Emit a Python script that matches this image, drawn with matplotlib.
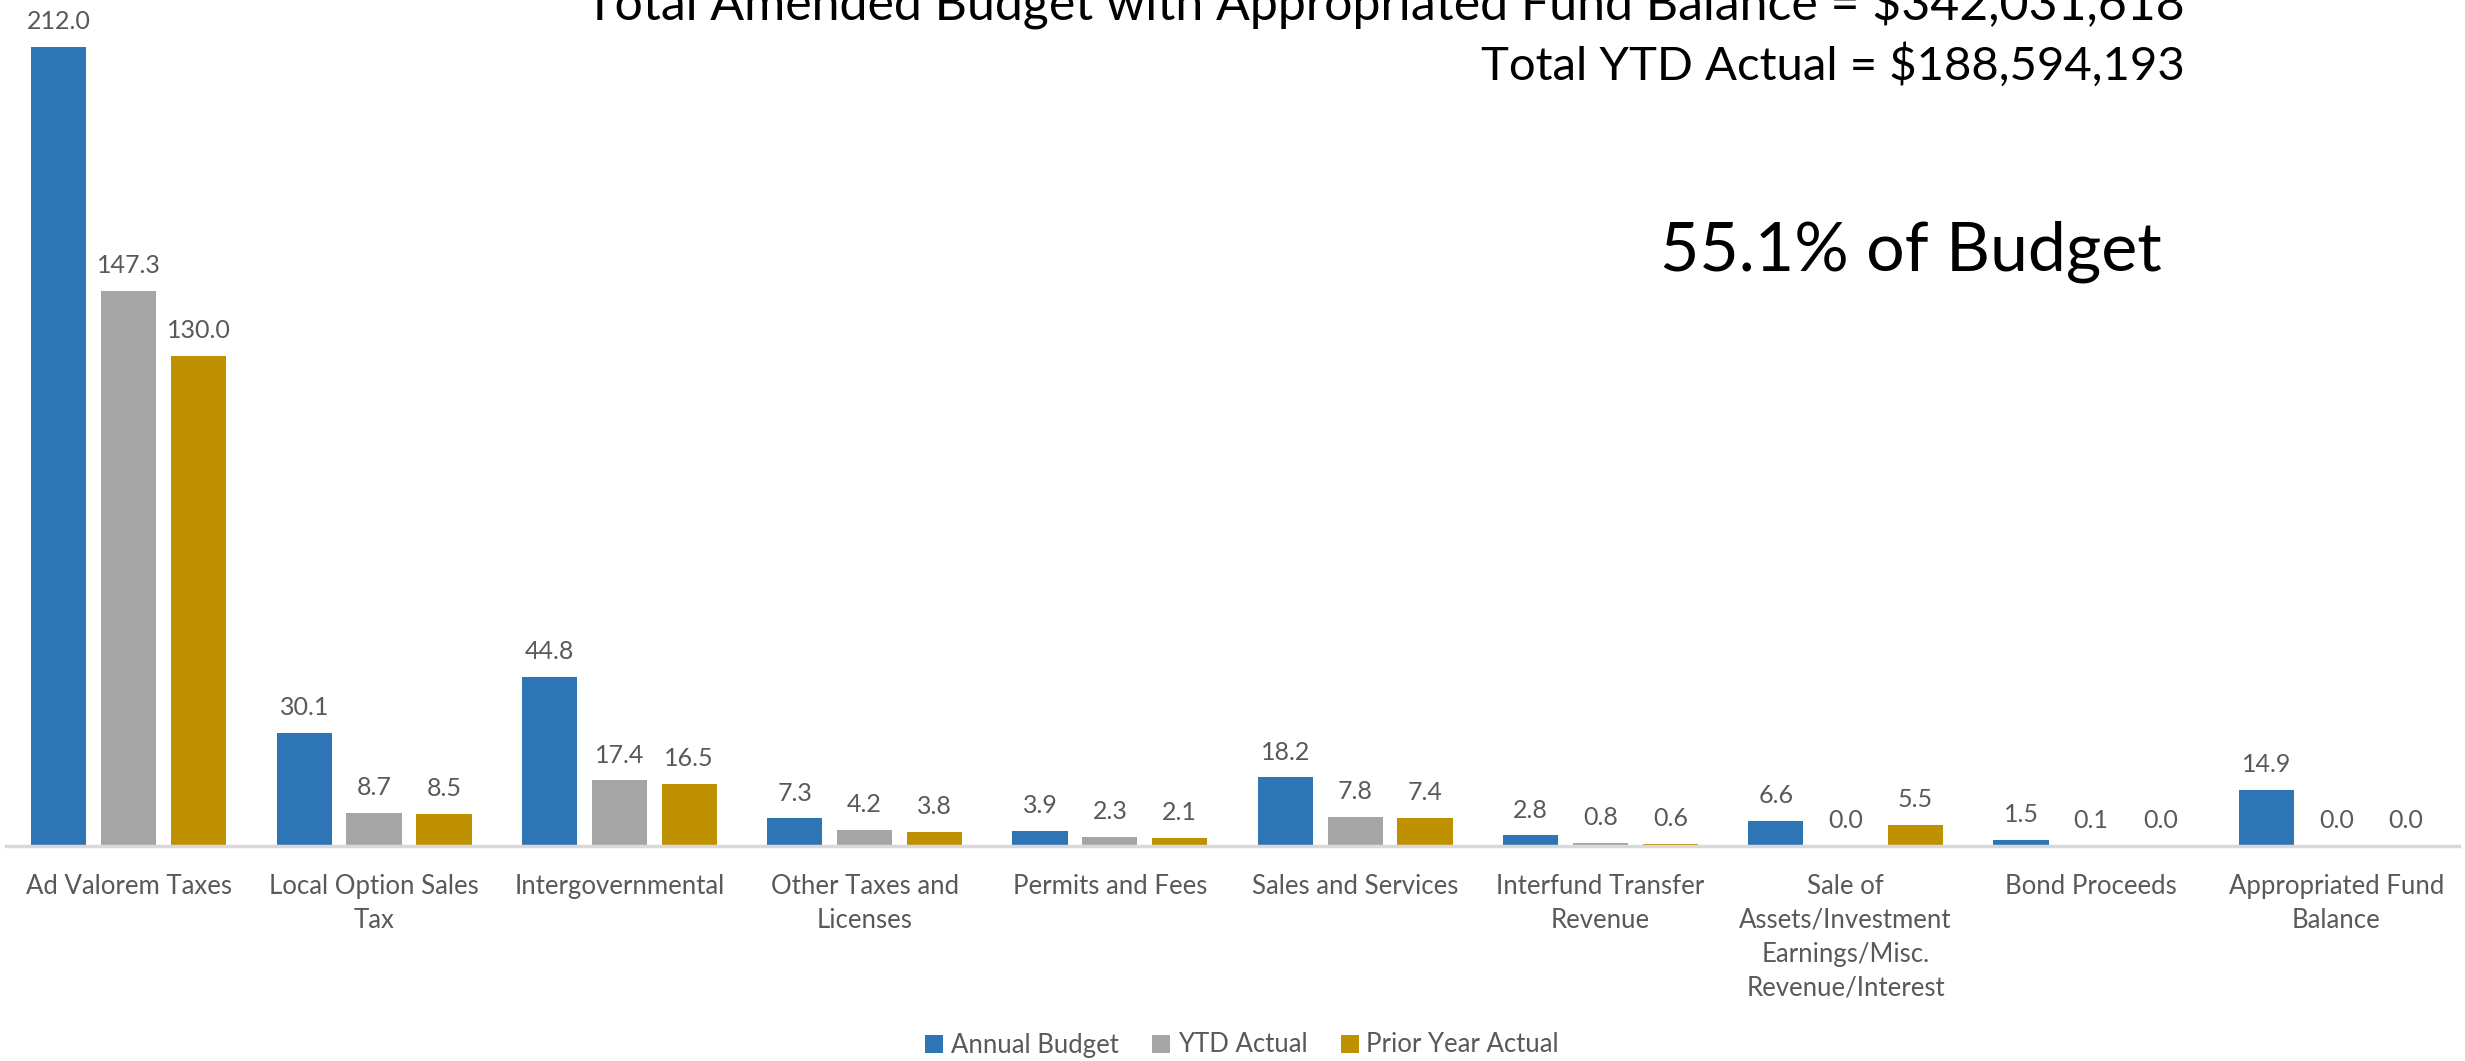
import matplotlib
matplotlib.use("Agg")
import matplotlib.pyplot as plt
import numpy as np

categories = ["Ad Valorem Taxes", "Local Option Sales\nTax", "Intergovernmental",
              "Other Taxes and\nLicenses", "Permits and Fees", "Sales and Services",
              "Interfund Transfer\nRevenue", "Sale of\nAssets/Investment\nEarnings/Misc.\nRevenue/Interest",
              "Bond Proceeds", "Appropriated Fund\nBalance"]
annual_budget = [212.0, 30.1, 44.8, 7.3, 3.9, 18.2, 2.8, 6.6, 1.5, 14.9]
ytd_actual = [147.3, 8.7, 17.4, 4.2, 2.3, 7.8, 0.8, 0.0, 0.1, 0.0]
prior_year = [130.0, 8.5, 16.5, 3.8, 2.1, 7.4, 0.6, 5.5, 0.0, 0.0]
series_names = ["Annual Budget", "YTD Actual", "Prior Year Actual"]
colors = ["#2E75B6", "#A5A5A5", "#BF9000"]

W, H = 2465, 1061
fig = plt.figure(figsize=(W / 100, H / 100), dpi=100)
base_px = 846
ax = fig.add_axes([0.0025, 1 - base_px / H, 0.995, base_px / H])

label_font = ["Lato", "DejaVu Sans"]
x = np.arange(len(categories))
step = 0.285
width = 0.225
all_series = [annual_budget, ytd_actual, prior_year]
handles = []
for i, (vals, name, c) in enumerate(zip(all_series, series_names, colors)):
    b = ax.bar(x + (i - 1) * step, vals, width, color=c, label=name, zorder=2)
    handles.append(b)
    for xi, v in zip(x + (i - 1) * step, vals):
        ax.annotate(f"{v:.1f}", (xi, v), xytext=(0, 10), textcoords="offset points",
                    ha="center", va="bottom", fontsize=18, color="#595959", family=label_font)

ax.set_xlim(-0.5, len(categories) - 0.5)
ax.set_ylim(0, 224.5)
for s in ["top", "right", "left"]:
    ax.spines[s].set_visible(False)
ax.spines["bottom"].set_color("#D9D9D9")
ax.spines["bottom"].set_linewidth(2.5)
ax.set_yticks([])
ax.set_xticks(x)
ax.set_xticklabels(categories, fontsize=18.5, color="#595959", family=label_font, linespacing=1.45)
ax.tick_params(axis="x", length=0, pad=20)

fig.text(2185 / W, 1 - 5 / H, "Total Amended Budget with Appropriated Fund Balance = $342,031,618",
         ha="right", va="center", fontsize=36, family=["Lato", "DejaVu Sans"], color="black")
fig.text(2185 / W, 1 - 65 / H, "Total YTD Actual = $188,594,193",
         ha="right", va="center", fontsize=34, family=["Lato", "DejaVu Sans"], color="black")
fig.text(2162 / W, 1 - 252 / H, "55.1% of Budget",
         ha="right", va="center", fontsize=49, family=["Lato", "DejaVu Sans"], color="black")

fig.legend(handles=handles, labels=series_names, loc="center", bbox_to_anchor=(1242 / W, 1 - 1045 / H),
           ncol=3, frameon=False, handlelength=0.7, handleheight=0.7, handletextpad=0.3,
           columnspacing=1.3, labelcolor="#595959", prop={"family": label_font, "size": 18.5})

fig.savefig("out.png", dpi=100)
